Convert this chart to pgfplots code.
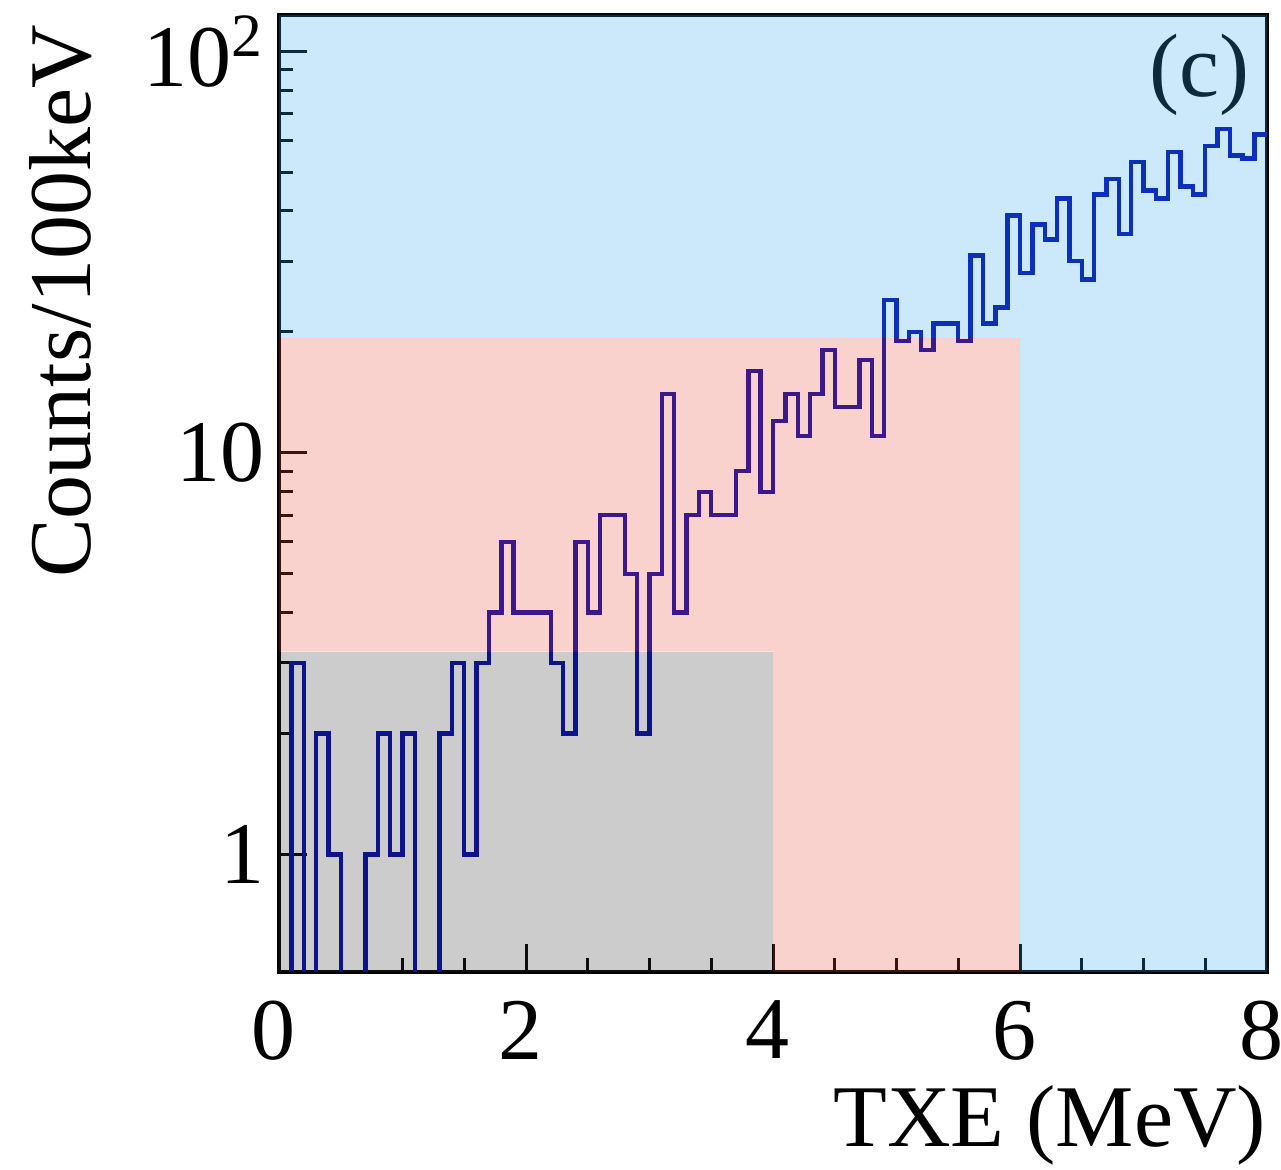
\documentclass[border=0pt]{standalone}
\usepackage{fontspec}
\setmainfont{Liberation Serif}
\usepackage{pgfplots}
\usepackage{pgfplotstable}
\pgfplotsset{compat=1.18}
\definecolor{histline}{RGB}{0,8,168}
\definecolor{bluefill}{RGB}{52,168,244}
\definecolor{pinkfill}{RGB}{236,76,56}
\definecolor{grayfill}{RGB}{52,52,52}
\definecolor{labc}{RGB}{13,42,61}
% bin left edge, counts (zero bins written as 0.1, below the axis)
\pgfplotstableread{
x y
0.0 0.1
0.1 3
0.2 0.1
0.3 2
0.4 1
0.5 0.1
0.6 0.1
0.7 1
0.8 2
0.9 1
1.0 2
1.1 0.1
1.2 0.1
1.3 2
1.4 3
1.5 1
1.6 3
1.7 4
1.8 6
1.9 4
2.0 4
2.1 4
2.2 3
2.3 2
2.4 6
2.5 4
2.6 7
2.7 7
2.8 5
2.9 2
3.0 5
3.1 14
3.2 4
3.3 7
3.4 8
3.5 7
3.6 7
3.7 9
3.8 16
3.9 8
4.0 12
4.1 14
4.2 11
4.3 14
4.4 18
4.5 13
4.6 13
4.7 17
4.8 11
4.9 24
5.0 19
5.1 20
5.2 18
5.3 21
5.4 21
5.5 19
5.6 31
5.7 21
5.8 23
5.9 39
6.0 28
6.1 37
6.2 34
6.3 43
6.4 30
6.5 27
6.6 44
6.7 48
6.8 35
6.9 53
7.0 45
7.1 43
7.2 56
7.3 46
7.4 44
7.5 58
7.6 64
7.7 55
7.8 54
7.9 62
8.0 62
}\histdata
\begin{document}
\fontsize{22}{26}\selectfont
\begin{tikzpicture}
\begin{axis}[
  scale only axis, width=247pt, height=239.25pt,
  ymode=log, xmin=0, xmax=8, ymin=0.51, ymax=123,
  xtick={0,2,4,6,8}, minor x tick num=3,
  ytick={1,10,100}, yticklabels={1,10,10\textsuperscript{2}},
  tick pos=left, tick align=inside,
  major tick length=7pt, minor tick length=3.5pt,
  every tick/.style={line width=0.75pt, black},
  axis line style={line width=1.2pt},
  /pgf/number format/assume math mode=true,
  ticklabel style={font=\fontsize{22}{26}\selectfont},
  xticklabel style={inner sep=0pt, yshift=-7pt, xshift=-1.4pt},
  yticklabel style={inner sep=0pt, xshift=-3.5pt},
  xlabel={TXE (MeV)}, ylabel={Counts/100keV},
  label style={font=\fontsize{22}{26}\selectfont, inner sep=0pt},
  xlabel style={at={(axis description cs:1,-0.118)}, anchor=north east},
  ylabel style={at={(axis description cs:-0.189,0.99)}, anchor=south east},
]
\addplot[const plot, histline, line width=1.1pt, line join=miter] table[x=x,y=y] {\histdata};
% shaded regions
\addplot[draw=none, fill=bluefill, fill opacity=0.25] coordinates {(0,19.3) (6,19.3) (6,0.51) (8,0.51) (8,123) (0,123)} -- cycle;
\addplot[draw=none, fill=pinkfill, fill opacity=0.25] coordinates {(0,3.2) (4,3.2) (4,0.51) (6,0.51) (6,19.3) (0,19.3)} -- cycle;
\addplot[draw=none, fill=grayfill, fill opacity=0.25] coordinates {(0,0.51) (4,0.51) (4,3.2) (0,3.2)} -- cycle;
\node[labc, font=\fontsize{22.5}{26}\selectfont] at (axis description cs:0.932,0.937) {(c)};
\end{axis}
\pgfresetboundingbox
\path (current axis.south west) ++(-69.75pt,-49.5pt) rectangle ([xshift=3.5pt,yshift=3.75pt]current axis.north east);
\end{tikzpicture}
\end{document}
